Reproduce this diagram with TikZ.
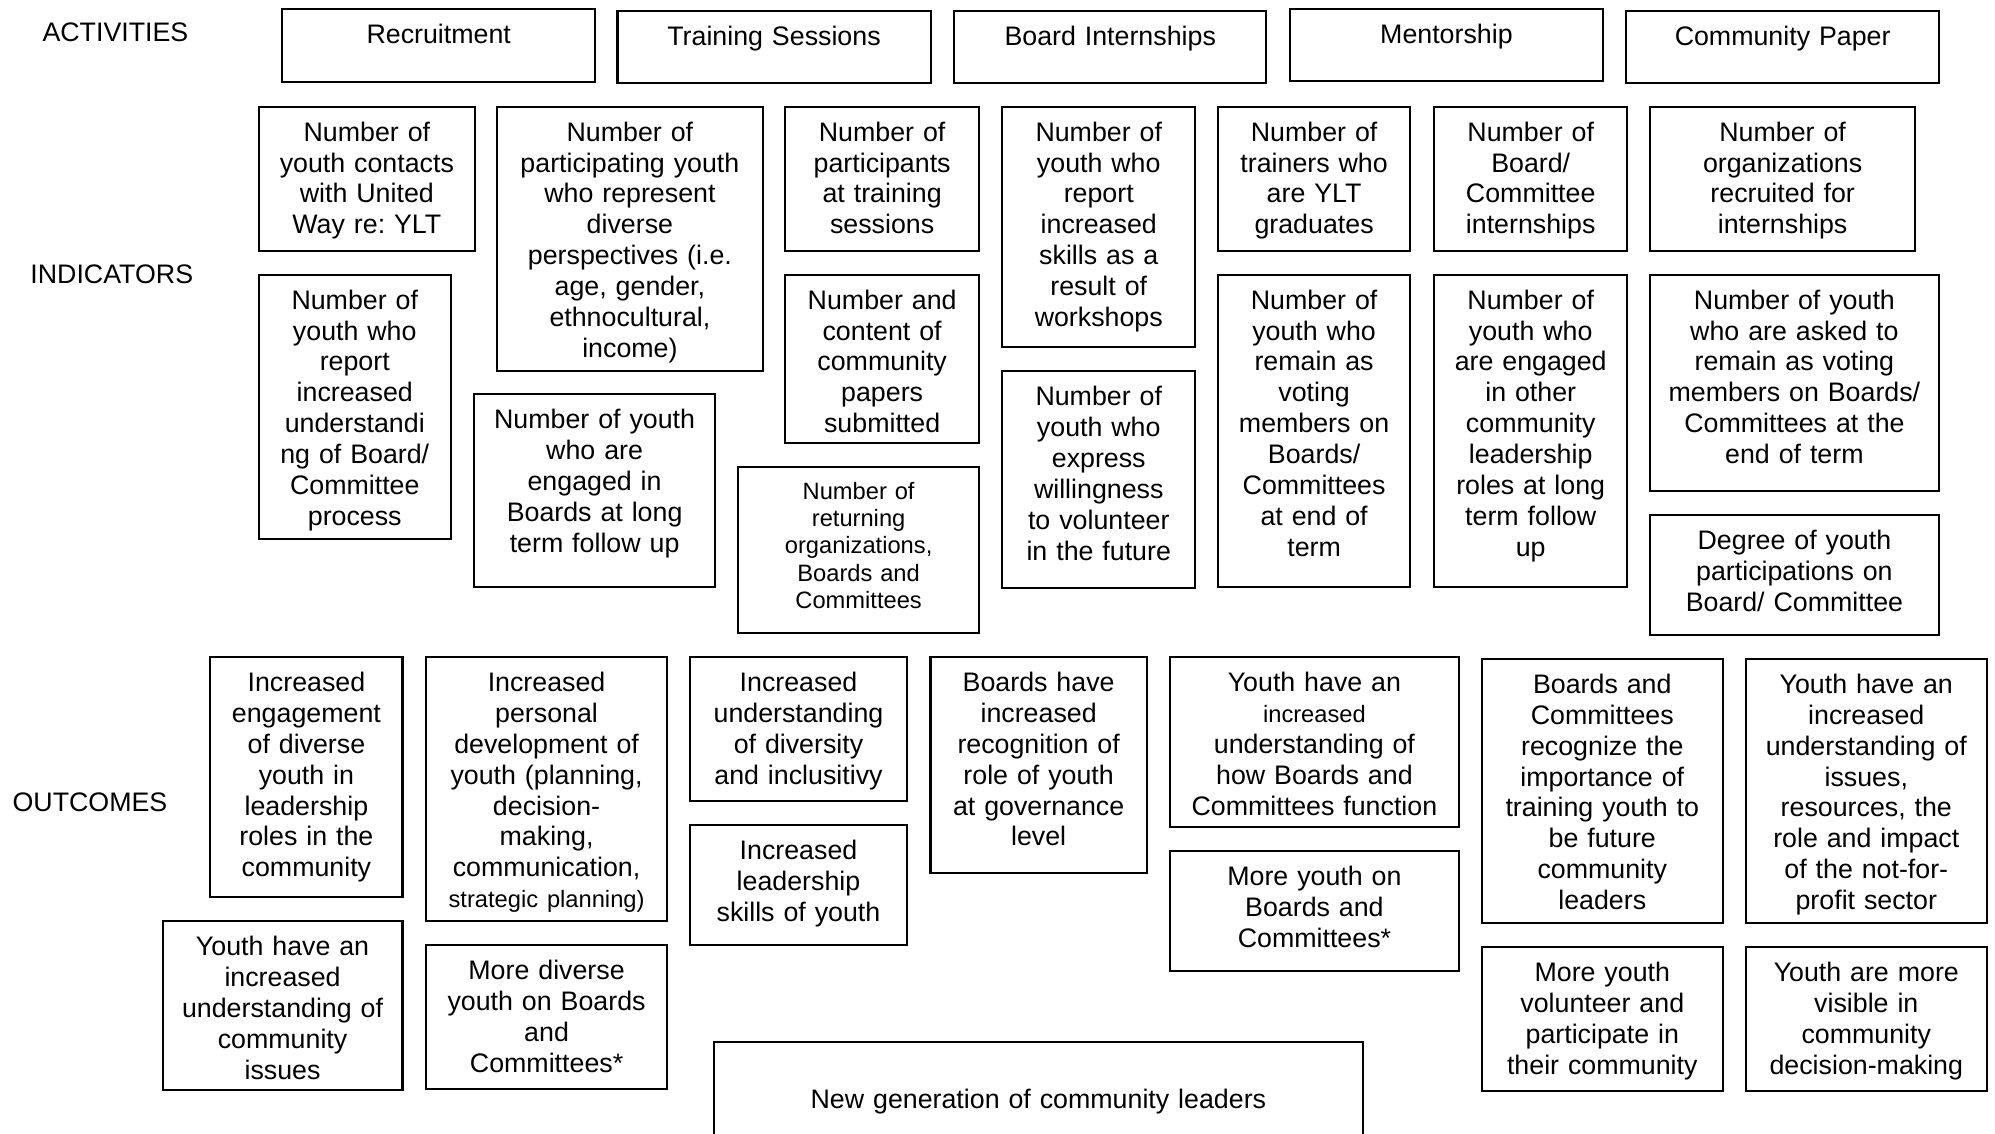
\documentclass[tikz,border=0pt]{standalone}
\usepackage{fontspec}
\setmainfont{Liberation Sans}
\frenchspacing

\begin{document}
\begin{tikzpicture}[x=0.01737cm, y=-0.01737cm,
    box/.style={draw, line width=0.8pt, anchor=north west, inner sep=0pt, align=center,
                font={\fontsize{10.4}{12}\selectfont}, text height=13.4pt},
    wh/.style 2 args={text width=#1*0.4942pt, text depth=#2*0.4942pt-13.4pt},
    head/.style={anchor=base west, inner sep=0pt, font={\fontsize{10.4}{12}\selectfont}}]
    \useasboundingbox (0,0) rectangle (1568,891);
    \clip (0,0) rectangle (1568,891);
    % row titles
    \node[head] (act) at (33,33)    {ACTIVITIES};
    \node[head] (ind) at (23.5,223) {INDICATORS};
    \node[head] (out) at (9.5,638)  {OUTCOMES};
    % activities
    \node[box, wh={246}{57.5}]   (rec) at (221,6)     {Recruitment};
    \node[box, wh={246}{56.5}]   (trs) at (484.5,8)   {Training Sessions};
    \node[box, wh={245.5}{57}]   (bin) at (749,7.5)   {Board Internships};
    \node[box, wh={246}{57}]     (men) at (1013,6)    {Mentorship};
    \node[box, wh={245.5}{57}]   (cpa) at (1277.5,7.5) {Community Paper};
    % indicators
    \node[box, wh={170}{113.5}]   (i1)  at (202.5,83)  {Number of\\ youth contacts\\ with United\\ Way re: YLT};
    \node[box, wh={151}{208}]     (i2)  at (202.5,215) {Number of\\ youth who\\ report\\ increased\\ understandi\\ ng of Board/\\ Committee\\ process};
    \node[box, wh={208.5}{207.5}] (i3)  at (390,83)    {Number of\\ participating youth\\ who represent\\ diverse\\ perspectives (i.e.\\ age, gender,\\ ethnocultural,\\ income)};
    \node[box, wh={189}{151.5}]   (i4)  at (372,309)   {Number of youth\\ who are\\ engaged in\\ Boards at long\\ term follow up};
    \node[box, wh={152}{113.5}]   (i5)  at (616.5,83)  {Number of\\ participants\\ at training\\ sessions};
    \node[box, wh={152}{132}]     (i6)  at (616.5,215) {Number and\\ content of\\ community\\ papers\\ submitted};
    \node[box, text width=189*0.4942pt, text height=12.6pt, text depth=130.5*0.4942pt-12.6pt,
          font={\fontsize{9.2}{10.6}\selectfont}]
                                  (i7)  at (579.5,366) {Number of\\ returning\\ organizations,\\ Boards and\\ Committees};
    \node[box, wh={151.5}{189}]   (i8)  at (787,83)    {Number of\\ youth who\\ report\\ increased\\ skills as a\\ result of\\ workshops};
    \node[box, wh={151.5}{170}]   (i9)  at (787,291)   {Number of\\ youth who\\ express\\ willingness\\ to volunteer\\ in the future};
    \node[box, wh={151}{113.5}]   (i10) at (956.5,83)  {Number of\\ trainers who\\ are YLT\\ graduates};
    \node[box, wh={151}{245.5}]   (i11) at (956.5,215) {Number of\\ youth who\\ remain as\\ voting\\ members on\\ Boards/\\ Committees\\ at end of\\ term};
    \node[box, wh={151.5}{113.5}] (i12) at (1126.5,83)  {Number of\\ Board/\\ Committee\\ internships};
    \node[box, wh={151.5}{245.5}] (i13) at (1126.5,215) {Number of\\ youth who\\ are engaged\\ in other\\ community\\ leadership\\ roles at long\\ term follow\\ up};
    \node[box, wh={208.5}{113.5}] (i14) at (1296,83)   {Number of\\ organizations\\ recruited for\\ internships};
    \node[box, wh={227}{170}]     (i15) at (1296,215)  {Number of youth\\ who are asked to\\ remain as voting\\ members on Boards/\\ Committees at the\\ end of term};
    \node[box, wh={227}{94.5}]    (i16) at (1296,404)  {Degree of youth\\ participations on\\ Board/ Committee};
    % outcomes
    \node[box, wh={151}{188.5}]   (o1)  at (164.5,515.5) {Increased\\ engagement\\ of diverse\\ youth in\\ leadership\\ roles in the\\ community};
    \node[box, wh={189.5}{207.5}] (o2)  at (334,515.5)  {Increased\\ personal\\ development of\\ youth (planning,\\ decision-\\ making,\\ communication,\\ {\fontsize{9.2}{12}\selectfont strategic planning)}};
    \node[box, wh={170.5}{113.5}] (o3)  at (541.5,515.5) {Increased\\ understanding\\ of diversity\\ and inclusitivy};
    \node[box, wh={170}{170}]     (o4)  at (730.5,515.5) {Boards have\\ increased\\ recognition of\\ role of youth\\ at governance\\ level};
    \node[box, wh={226.5}{134}]   (o5)  at (919,515.5)  {Youth have an\\ {\fontsize{9.2}{12}\selectfont increased}\\ understanding of\\ how Boards and\\ Committees function};
    \node[box, wh={189}{207.5}]   (o6)  at (1164,517)   {Boards and\\ Committees\\ recognize the\\ importance of\\ training youth to\\ be future\\ community\\ leaders};
    \node[box, wh={189}{207.5}]   (o7)  at (1371.5,517) {Youth have an\\ increased\\ understanding of\\ issues,\\ resources, the\\ role and impact\\ of the not-for-\\ profit sector};
    \node[box, wh={188.5}{132.5}] (o8)  at (127,723)    {Youth have an\\ increased\\ understanding of\\ community\\ issues};
    \node[box, wh={189.5}{113}]   (o9)  at (334,742)    {More diverse\\ youth on Boards\\ and\\ Committees*};
    \node[box, wh={170.5}{94.5}]  (o10) at (541.5,647.5) {Increased\\ leadership\\ skills of youth};
    \node[box, wh={226.5}{94.5}]  (o11) at (919,668)    {More youth on\\ Boards and\\ Committees*};
    \node[box, wh={189}{113}]     (o12) at (1164,743.5) {More youth\\ volunteer and\\ participate in\\ their community};
    \node[box, wh={189}{113}]     (o13) at (1371.5,743.5) {Youth are more\\ visible in\\ community\\ decision-making};
    \node[box, text width=509.5*0.4942pt, text height=25.8pt, text depth=100*0.4942pt-25.8pt]
                                  (ng)  at (560.5,818.5) {New generation of community leaders};
\end{tikzpicture}
\end{document}
